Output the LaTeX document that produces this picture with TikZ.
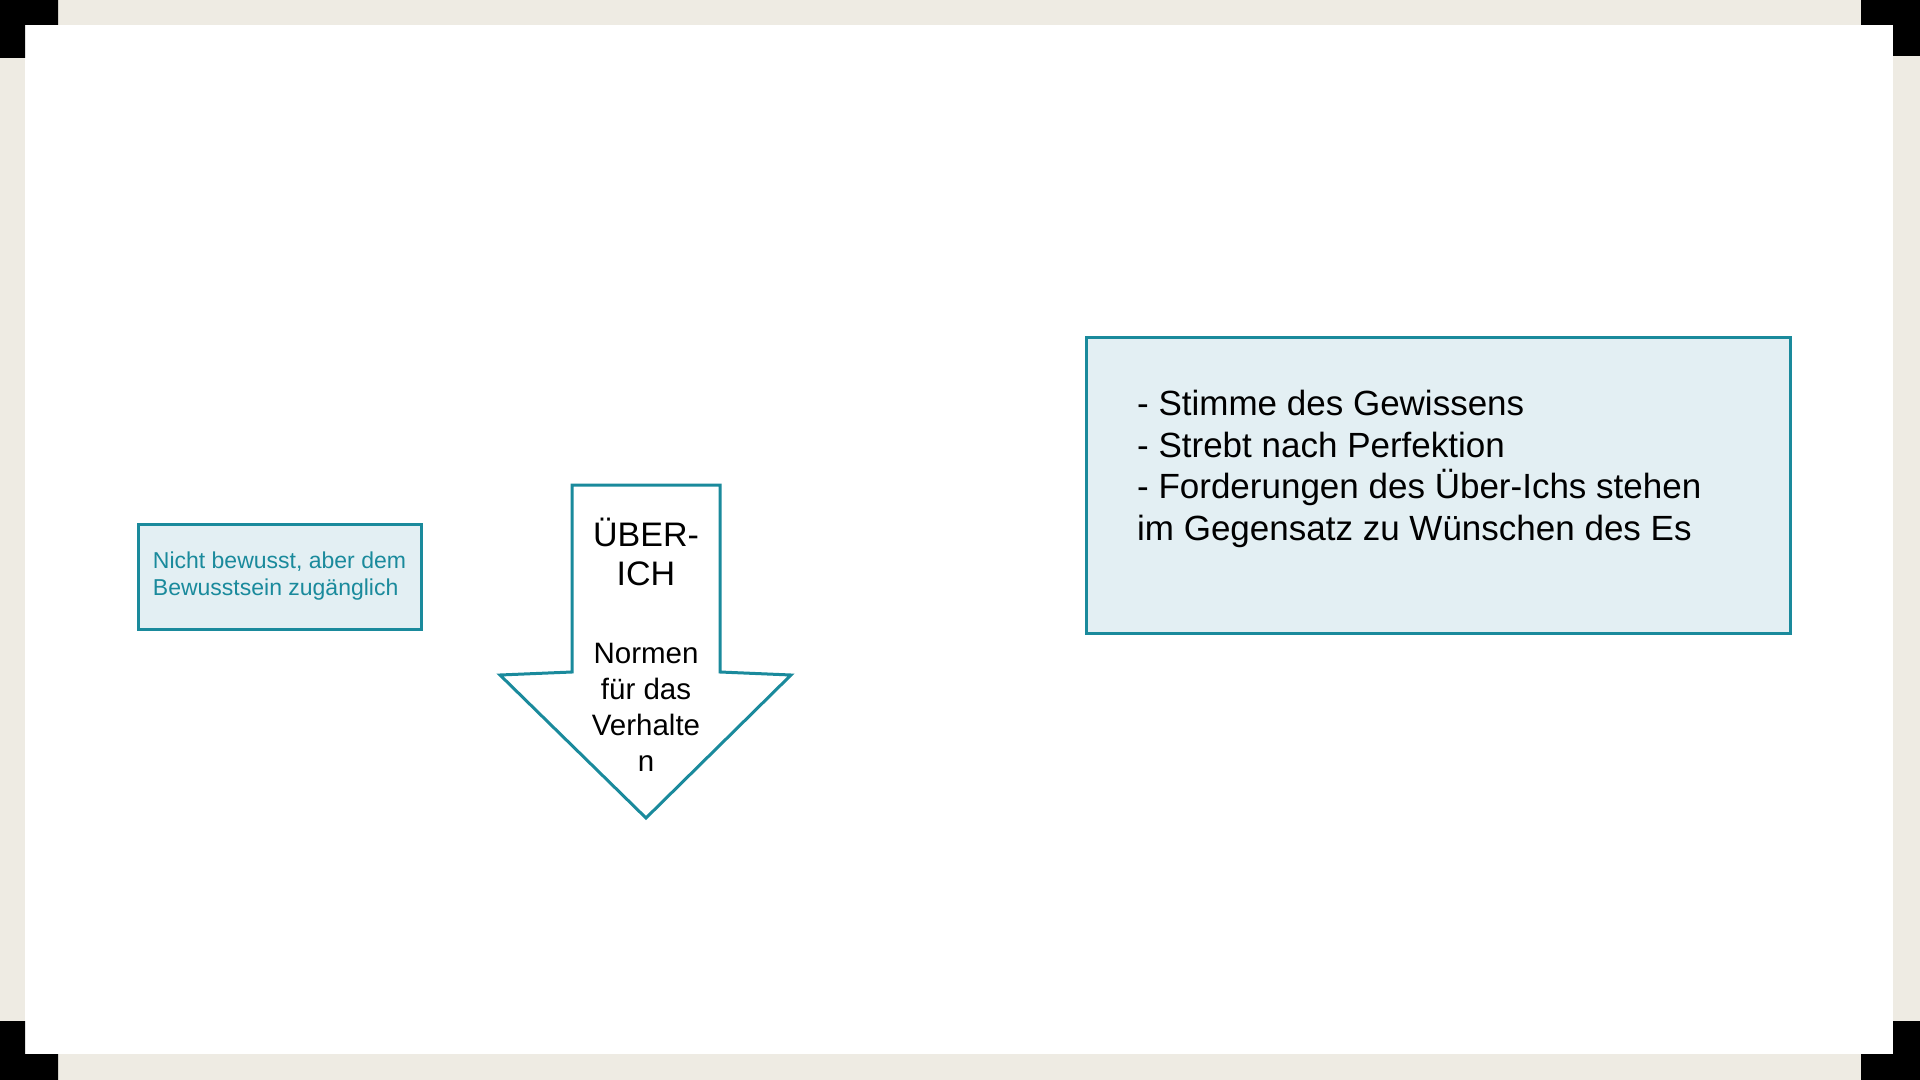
\documentclass[tikz,border=0pt]{standalone}
\usepackage{fontspec}
\setmainfont{Liberation Sans}
\definecolor{rahmen}{HTML}{EEEBE3}
\definecolor{petrol}{HTML}{1A8A9C}
\definecolor{hellblau}{HTML}{E3EFF3}

\def\ueberichCoords{\coordinate (A) at (572,485);\coordinate (B) at (720,485);\coordinate (C) at (720,672);\coordinate (D) at (791,675);\coordinate (E) at (646,818);\coordinate (F) at (500,675);\coordinate (G) at (572,672);}

\begin{document}
\begin{tikzpicture}[x=0.5pt, y=-0.5pt, line cap=round, line width=1.5pt,
	kasten/.style={draw=petrol, fill=hellblau, inner sep=0pt},
	pfeiltext/.style={align=center, font=\fontsize{14.75}{18}\selectfont}]
		\useasboundingbox (0,0) rectangle (1920,1080);
		
		% rahmen
		\fill[rahmen] (0,0) rectangle (1920,1080);
		\fill[white] (25,25) rectangle (1893,1054);
		\fill[black] (0,0) rectangle (58,25) (0,0) rectangle (25,58);
		\fill[black] (1861,0) rectangle (1920,25) (1893,0) rectangle (1920,56);
		\fill[black] (0,1054) rectangle (58,1080) (0,1021) rectangle (25,1080);
		\fill[black] (1861,1054) rectangle (1920,1080) (1893,1021) rectangle (1920,1080);
		
		% vorbewusstes
		\node[kasten, minimum width=141.5pt, minimum height=52.5pt, align=left, text=petrol,
			font=\fontsize{11.5}{13.5}\selectfont] (vorbewusst) at (279.5,576.5)
			{Nicht bewusst, aber dem\\Bewusstsein zugänglich};
		
		% pfeil (base = letzte Zeile)
		\begin{scope}
			\ueberichCoords
			\draw[petrol, fill=white, line join=miter] (A)--(B)--(C)--(D)--(E)--(F)--(G)--cycle;
		\end{scope}
		\node[pfeiltext, font=\fontsize{17}{19.5}\selectfont, anchor=base] (ueberich) at (646,585) {ÜBER-\\ICH};
		\node[pfeiltext, anchor=base] (normen) at (646,771) {Normen\\für das\\Verhalte\\n};
		
		% beschreibung
		\node[kasten, minimum width=352pt, minimum height=147.5pt] (info) at (1438,485.5) {};
		\node[align=left, anchor=base west, font=\fontsize{17.5}{20.75}\selectfont] (infotext) at (1129,540)
			{- Stimme des Gewissens\\- Strebt nach Perfektion\\- Forderungen des Über-Ichs stehen\\im Gegensatz zu Wünschen des Es};
\end{tikzpicture}
\end{document}
